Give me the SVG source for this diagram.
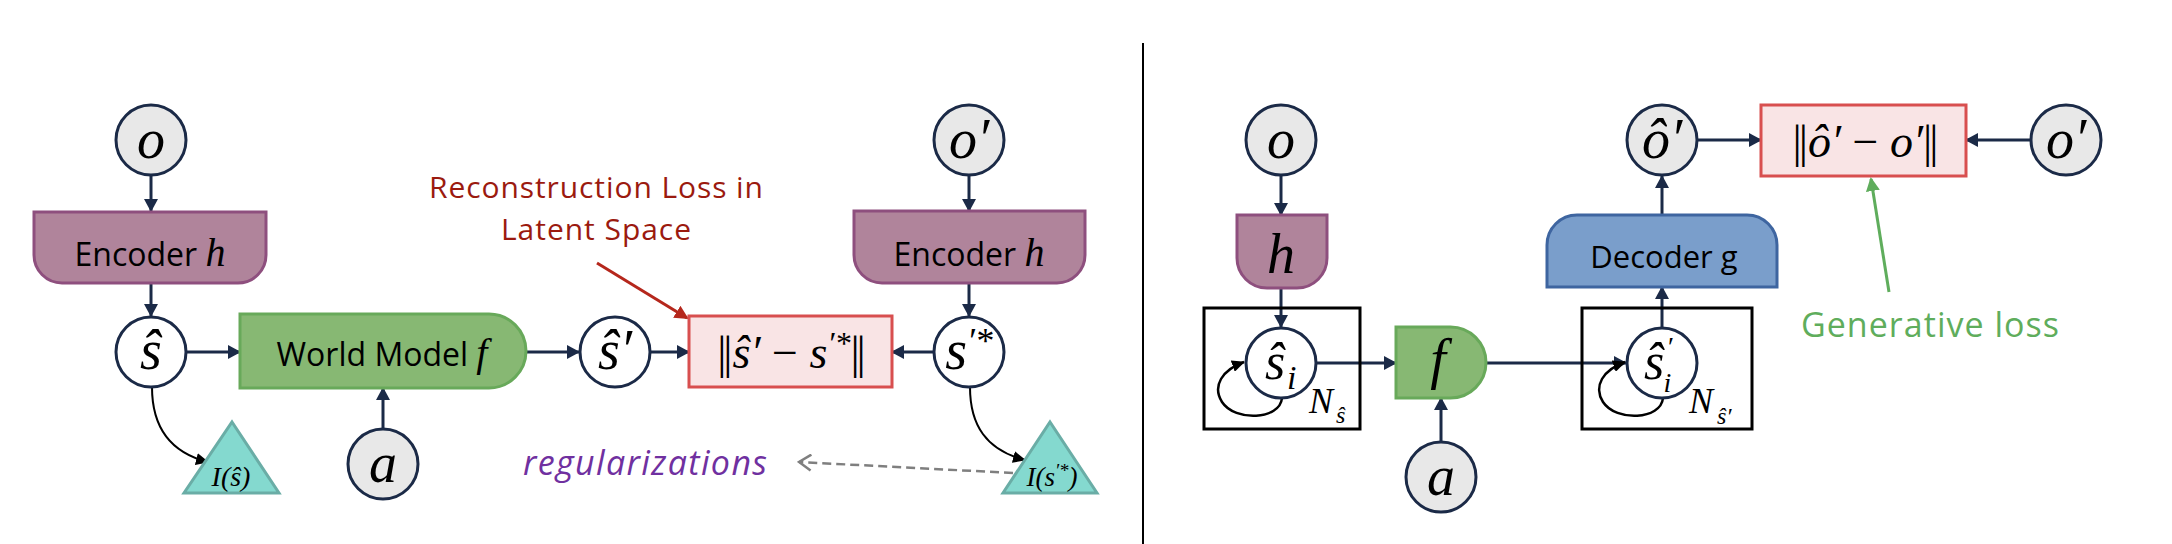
<svg xmlns="http://www.w3.org/2000/svg" width="2172" height="544" viewBox="0 0 2172 544">
<defs>
<marker id="ah" markerUnits="userSpaceOnUse" markerWidth="13" markerHeight="14" refX="12" refY="7" orient="auto"><path d="M0,0 L13,7 L0,14 Z" fill="#1b2a47"/></marker>
<marker id="ahb" markerUnits="userSpaceOnUse" markerWidth="13" markerHeight="12" refX="12" refY="6" orient="auto"><path d="M0,0 L13,6 L0,12 Z" fill="#000"/></marker>
<marker id="ahr" markerUnits="userSpaceOnUse" markerWidth="14" markerHeight="14" refX="12" refY="7" orient="auto"><path d="M0,0 L14,7 L0,14 Z" fill="#b5271c"/></marker>
<marker id="ahg" markerUnits="userSpaceOnUse" markerWidth="14" markerHeight="14" refX="12" refY="7" orient="auto"><path d="M0,0 L14,7 L0,14 Z" fill="#5fad5c"/></marker>
<marker id="ahd" markerUnits="userSpaceOnUse" markerWidth="16" markerHeight="18" refX="14" refY="9" orient="auto"><path d="M2,1 L14,9 L2,17" fill="none" stroke="#7f7f7f" stroke-width="2.5"/></marker>
</defs>
<style>
.c{stroke:#1b2a47;stroke-width:3}
.g{fill:#e8e8e8}
.w{fill:#fff}
.m{font-family:"Liberation Serif","DejaVu Serif",serif;font-style:italic;fill:#000}
.u{font-family:"Liberation Serif","DejaVu Serif",serif;font-style:normal;fill:#000}
.s{font-family:"Open Sans","Liberation Sans",sans-serif;fill:#000}
.enc{fill:#b0849b;stroke:#8e4f7e;stroke-width:3}
.wm{fill:#87b873;stroke:#68a95a;stroke-width:3}
.loss{fill:#f9e4e5;stroke:#d84f4f;stroke-width:3}
.tri{fill:#84d9cf;stroke:#6aada6;stroke-width:3}
.dec{fill:#7a9ecb;stroke:#3e65a0;stroke-width:3}
.plate{fill:none;stroke:#000;stroke-width:3}
.e{stroke:#1b2a47;stroke-width:3;fill:none;marker-end:url(#ah)}
.cb{stroke:#000;stroke-width:2;fill:none;marker-end:url(#ahb)}
</style>
<rect width="2172" height="544" fill="#fff"/>
<line x1="1143" y1="43" x2="1143" y2="544" stroke="#000" stroke-width="2"/>

<g id="connectors">
<path class="e" d="M151,176 V211"/>
<path class="e" d="M151,283 V316"/>
<path class="e" d="M187,352 H240"/>
<path class="e" d="M383,428 V388"/>
<path class="e" d="M526,352 H579"/>
<path class="e" d="M651,352 H689"/>
<path class="e" d="M933,352 H892"/>
<path class="e" d="M969,176 V211"/>
<path class="e" d="M969,283 V316"/>
<path class="cb" d="M152,387 C152,425 168,452 208,462"/>
<path class="cb" d="M970,387 C970,425 986,450 1025,460"/>
<path d="M1013,473 L799,462" stroke="#7f7f7f" stroke-width="2.5" stroke-dasharray="9 5" fill="none" marker-end="url(#ahd)"/>
<path d="M597,263 L687,318" stroke="#b5271c" stroke-width="3" fill="none" marker-end="url(#ahr)"/>
<path class="e" d="M1281,176 V215"/>
<path class="e" d="M1281,288 V327"/>
<path class="e" d="M1317,363 H1396"/>
<path class="e" d="M1441,441 V398"/>
<path class="e" d="M1486,363 H1626"/>
<path class="e" d="M1662,327 V287"/>
<path class="e" d="M1662,215 V176"/>
<path class="e" d="M1698,140 H1761"/>
<path class="e" d="M2030,140 H1966"/>
<path d="M1282,398 C1280,420 1235,422 1222,402 C1212,386 1222,370 1244,362" stroke="#000" stroke-width="2.5" fill="none" marker-end="url(#ahb)"/>
<path d="M1663,398 C1661,420 1616,422 1603,402 C1593,386 1603,370 1625,362" stroke="#000" stroke-width="2.5" fill="none" marker-end="url(#ahb)"/>
<path d="M1889,292 L1871,179" stroke="#5fad5c" stroke-width="3" fill="none" marker-end="url(#ahg)"/>
</g>

<g id="o-left"><circle class="c g" cx="151" cy="140" r="35"/><text class="m" x="151" y="158" font-size="56" text-anchor="middle">o</text></g>
<g id="encoder-left"><path class="enc" d="M34,212 H266 V255 A28,28 0 0 1 238,283 H62 A28,28 0 0 1 34,255 Z"/><text class="s" x="150" y="266" font-size="32" text-anchor="middle">Encoder <tspan class="m" font-size="40">h</tspan></text></g>
<g id="s-hat"><circle class="c w" cx="151" cy="352" r="35"/><text class="m" x="151" y="369" font-size="56" text-anchor="middle">ŝ</text></g>
<g id="world-model"><path class="wm" d="M240,314 H489 A37,37 0 0 1 489,388 H240 Z"/><text class="s" x="382" y="366" font-size="32" text-anchor="middle">World Model <tspan class="m" font-size="40">f</tspan></text></g>
<g id="a-left"><circle class="c g" cx="383" cy="464" r="35"/><text class="m" x="383" y="482" font-size="56" text-anchor="middle">a</text></g>
<g id="I-s-hat"><path class="tri" d="M232,422 L279,493 L184,493 Z"/><text class="m" x="231" y="486" font-size="28" text-anchor="middle">I(ŝ)</text></g>
<g id="s-hat-prime"><circle class="c w" cx="615" cy="352" r="35"/><text class="m" x="615" y="369" font-size="56" text-anchor="middle">ŝ′</text></g>
<g id="latent-loss"><rect class="loss" x="689" y="316" width="203" height="71"/><text class="m" x="790" y="368" font-size="46" text-anchor="middle"><tspan class="u" letter-spacing="-3">||</tspan><tspan dx="3">ŝ′ </tspan><tspan class="u">−</tspan> s<tspan font-size="32" dy="-14">′*</tspan><tspan class="u" dy="14" letter-spacing="-3">||</tspan></text></g>
<g id="s-prime-star"><circle class="c w" cx="969" cy="352" r="35"/><text class="m" x="969" y="369" font-size="56" text-anchor="middle">s<tspan font-size="36" dy="-16">′*</tspan></text></g>
<g id="o-prime-left"><circle class="c g" cx="969" cy="140" r="35"/><text class="m" x="969" y="158" font-size="56" text-anchor="middle">o′</text></g>
<g id="encoder-right"><path class="enc" d="M854,211 H1085 V255 A28,28 0 0 1 1057,283 H882 A28,28 0 0 1 854,255 Z"/><text class="s" x="969" y="266" font-size="32" text-anchor="middle">Encoder <tspan class="m" font-size="40">h</tspan></text></g>
<g id="I-s-prime-star"><path class="tri" d="M1050,422 L1097,493 L1003,493 Z"/><text class="m" x="1052" y="486" font-size="27" text-anchor="middle">I(s<tspan font-size="19" dy="-9">′*</tspan><tspan dy="9">)</tspan></text></g>
<text x="596" y="198" font-family="Open Sans, Liberation Sans, sans-serif" font-size="30" fill="#9b1a0f" text-anchor="middle" textLength="334">Reconstruction Loss in</text>
<text x="596" y="240" font-family="Open Sans, Liberation Sans, sans-serif" font-size="30" fill="#9b1a0f" text-anchor="middle" textLength="190">Latent Space</text>
<text x="523" y="475" font-family="Open Sans, Liberation Sans, sans-serif" font-size="34" font-style="italic" fill="#7030a0" textLength="244">regularizations</text>

<g id="o-right"><circle class="c g" cx="1281" cy="140" r="35"/><text class="m" x="1281" y="158" font-size="56" text-anchor="middle">o</text></g>
<g id="h-right"><path class="enc" d="M1237,215 H1327 V258 A30,30 0 0 1 1297,288 H1267 A30,30 0 0 1 1237,258 Z"/><text class="m" x="1281" y="273" font-size="56" text-anchor="middle">h</text></g>
<g id="plate-s"><rect class="plate" x="1204" y="308" width="156" height="121"/><text class="m" x="1309" y="413" font-size="36">N</text><text class="m" x="1336" y="423" font-size="24">ŝ</text></g>
<g id="s-hat-i"><circle class="c w" cx="1281" cy="363" r="35"/><text class="m" x="1275" y="379" font-size="52" text-anchor="middle">ŝ</text><text class="m" x="1287" y="389" font-size="34">i</text></g>
<g id="f"><path class="wm" d="M1396,327 H1450.5 A35.5,35.5 0 0 1 1450.5,398 H1396 Z"/><text class="m" x="1438" y="378" font-size="56" text-anchor="middle">f</text></g>
<g id="a-right"><circle class="c g" cx="1441" cy="477" r="35"/><text class="m" x="1441" y="495" font-size="56" text-anchor="middle">a</text></g>
<g id="plate-s-prime"><rect class="plate" x="1582" y="308" width="170" height="121"/><text class="m" x="1689" y="413" font-size="36">N</text><text class="m" x="1717" y="424" font-size="24">ŝ′</text></g>
<g id="s-hat-prime-i"><circle class="c w" cx="1662" cy="363" r="35"/><text class="m" x="1644" y="379" font-size="52">ŝ<tspan font-size="28" dx="2" dy="-23">′</tspan><tspan font-size="28" dx="-9" dy="36">i</tspan></text></g>
<g id="decoder"><path class="dec" d="M1547,287 V245 A30,30 0 0 1 1577,215 H1747 A30,30 0 0 1 1777,245 V287 Z"/><text class="s" x="1664" y="268" font-size="31" text-anchor="middle">Decoder g</text></g>
<g id="o-hat-prime"><circle class="c g" cx="1662" cy="140" r="35"/><text class="m" x="1662" y="158" font-size="56" text-anchor="middle">ô′</text></g>
<g id="gen-loss"><rect class="loss" x="1761" y="105" width="205" height="71"/><text class="m" x="1864" y="157" font-size="46" text-anchor="middle"><tspan class="u" letter-spacing="-3">||</tspan><tspan dx="3">ô′ </tspan><tspan class="u">−</tspan> o′<tspan class="u" letter-spacing="-3">||</tspan></text></g>
<g id="o-prime-right"><circle class="c g" cx="2066" cy="140" r="35"/><text class="m" x="2066" y="158" font-size="56" text-anchor="middle">o′</text></g>
<text x="1930" y="337" font-family="Open Sans, Liberation Sans, sans-serif" font-size="34" fill="#5fad5c" text-anchor="middle" textLength="258">Generative loss</text>
</svg>
